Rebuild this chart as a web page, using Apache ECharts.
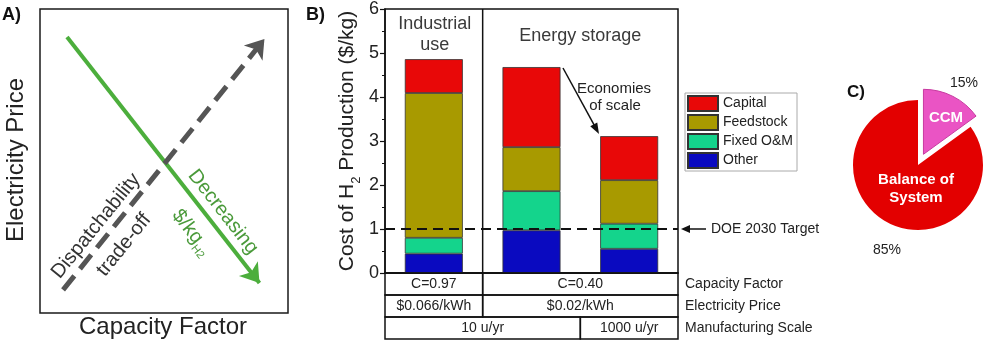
<!DOCTYPE html>
<html>
<head>
<meta charset="utf-8">
<script src="https://cdn.jsdelivr.net/npm/echarts@6/dist/echarts.min.js"></script>
<style>html,body{margin:0;padding:0;background:#fff}#c{width:985px;height:353px}</style>
</head>
<body>
<div id="c"></div>
<script>
// ---------- data ----------
const categories = ['Industrial use', 'Energy storage 10 u/yr', 'Energy storage 1000 u/yr'];
const other     = [0.44, 0.97, 0.55];
const fixedOM   = [0.36, 0.89, 0.57];
const feedstock = [3.29, 1.00, 0.99];
const capital   = [0.77, 1.82, 1.00];
const doeTarget = 1;
const yTickMax = 6;

// panel A schematic arrows (normalized 0..1 space)
const priceArrow = [[0.109, 0.908], [0.885, 0.099]];
const dispatchArrow = [[0.093, 0.076], [0.905, 0.901]];

// table below panel B: [text, startCategory, endCategory]
const tableRowLabels = ['Capacity Factor', 'Electricity Price', 'Manufacturing Scale'];
const tableCells = [
  [['C=0.97', 0, 1], ['C=0.40', 1, 3]],
  [['$0.066/kWh', 0, 1], ['$0.02/kWh', 1, 3]],
  [['10 u/yr', 0, 2], ['1000 u/yr', 2, 3]]
];

// panel C
const pieNames = ['CCM', 'Balance of System'];
const pieValues = [15, 85];

// ---------- layout ----------
const FF = '"Liberation Sans", Arial, Helvetica, sans-serif';
const gB = {left: 385, top: 9, width: 293, height: 264};
const bandW = gB.width / categories.length;
const rowH = 22;
const tableTop = gB.top + gB.height;

const col = {capital: '#e80808', feedstock: '#a89a00', fixed: '#14d48c', other: '#0a0ac0'};

function txt(x, y, text, o) {
  o = o || {};
  return {
    type: 'text', x: x, y: y, rotation: o.rot || 0, z: 50,
    style: {
      text: text, fill: o.fill || '#222', fontSize: o.size || 14, fontFamily: FF,
      fontWeight: o.weight || 'normal', align: o.align || 'center', verticalAlign: o.va || 'middle',
      rich: o.rich
    }
  };
}
function arrow(x1, y1, x2, y2, hl, hw, color, w) {
  const dx = x2 - x1, dy = y2 - y1, L = Math.sqrt(dx * dx + dy * dy);
  const ux = dx / L, uy = dy / L, px = -uy, py = ux;
  const bx = x2 - ux * hl, by = y2 - uy * hl;
  return [
    {type: 'line', z: 50, shape: {x1: x1, y1: y1, x2: bx + ux * 1, y2: by + uy * 1}, style: {stroke: color, lineWidth: w}},
    {type: 'polygon', z: 50, shape: {points: [[x2, y2], [bx + px * hw / 2, by + py * hw / 2], [bx - px * hw / 2, by - py * hw / 2]]}, style: {fill: color}}
  ];
}

const graphics = [];
// panel labels
graphics.push(txt(2, 6, 'A)', {size: 18, weight: 'bold', align: 'left', va: 'top', fill: '#111'}));
graphics.push(txt(306, 6, 'B)', {size: 18, weight: 'bold', align: 'left', va: 'top', fill: '#111'}));
graphics.push(txt(847, 84, 'C)', {size: 17, weight: 'bold', align: 'left', va: 'top', fill: '#111'}));
// panel A texts
graphics.push(txt(16, 160, 'Electricity Price', {size: 24, rot: Math.PI / 2}));
graphics.push(txt(163, 327, 'Capacity Factor', {size: 24}));
const rUp = 51 * Math.PI / 180, rDn = -52 * Math.PI / 180;
graphics.push(txt(96, 226, 'Dispatchability', {size: 20, rot: rUp, fill: '#333'}));
graphics.push(txt(124, 245, 'trade-off', {size: 20, rot: rUp, fill: '#333'}));
graphics.push(txt(223, 212, 'Decreasing', {size: 20, rot: rDn, fill: '#4a9a3a'}));
graphics.push(txt(191, 233, '{a|$/kg}{s|H2}', {size: 20, rot: rDn, fill: '#4a9a3a',
  rich: {a: {fontSize: 20, fontFamily: FF, fill: '#4a9a3a', verticalAlign: 'top', lineHeight: 22},
         s: {fontSize: 11, fontFamily: FF, fill: '#4a9a3a', verticalAlign: 'top', padding: [12, 0, 0, 0], lineHeight: 11}}}));

// panel B annotations
graphics.push(txt(gB.left + bandW * 0.5 + 1, 24, 'Industrial', {size: 18, fill: '#3a3a3a'}));
graphics.push(txt(gB.left + bandW * 0.5 + 1, 45, 'use', {size: 18, fill: '#3a3a3a'}));
graphics.push(txt(gB.left + bandW * 2, 36, 'Energy storage', {size: 18, fill: '#3a3a3a'}));
graphics.push(txt(614, 89, 'Economies', {size: 15, fill: '#222'}));
graphics.push(txt(615, 106, 'of scale', {size: 15, fill: '#222'}));
arrow(563, 68, 599, 134, 11, 8, '#111', 1.5).forEach(g => graphics.push(g));
arrow(706, 229, 681, 229, 9, 8, '#111', 1.5).forEach(g => graphics.push(g));
graphics.push(txt(711, 229, 'DOE 2030 Target', {size: 14, align: 'left', fill: '#222'}));
// divider between industrial / energy storage
graphics.push({type: 'line', z: 40, shape: {x1: gB.left + bandW, y1: gB.top, x2: gB.left + bandW, y2: tableTop}, style: {stroke: '#111', lineWidth: 1.5}});

// table
tableCells.forEach((row, i) => {
  const y0 = tableTop + i * rowH;
  row.forEach(c => {
    const xa = gB.left + c[1] * bandW, xb = gB.left + c[2] * bandW;
    graphics.push({type: 'rect', z: 40, shape: {x: xa, y: y0, width: xb - xa, height: rowH}, style: {fill: 'none', stroke: '#111', lineWidth: 1.5}});
    graphics.push(txt((xa + xb) / 2, y0 + rowH / 2, c[0], {size: 14, fill: '#222'}));
  });
  graphics.push(txt(gB.left + gB.width + 7, y0 + rowH / 2, tableRowLabels[i], {size: 14, align: 'left', fill: '#222'}));
});

// panel C labels
graphics.push(txt(946, 118, pieNames[0], {size: 15, weight: 'bold', fill: '#fff'}));
graphics.push(txt(916, 180, 'Balance of', {size: 15, weight: 'bold', fill: '#fff'}));
graphics.push(txt(916, 198, 'System', {size: 15, weight: 'bold', fill: '#fff'}));
graphics.push(txt(964, 83, pieValues[0] + '%', {size: 14, fill: '#222'}));
graphics.push(txt(887, 250, pieValues[1] + '%', {size: 14, fill: '#222'}));

const barBase = {
  type: 'bar', stack: 'cost', xAxisIndex: 1, yAxisIndex: 1, barWidth: 58,
  itemStyle: {borderColor: '#333', borderWidth: 0.8}, emphasis: {disabled: true}
};

const option = {
  animation: false,
  backgroundColor: '#fff',
  textStyle: {fontFamily: FF},
  grid: [
    {left: 40, top: 9, width: 248, height: 304, show: true, borderColor: '#1a1a1a', borderWidth: 1.5, backgroundColor: 'transparent'},
    {left: gB.left, top: gB.top, width: gB.width, height: gB.height, show: true, borderColor: '#111', borderWidth: 1.5, backgroundColor: 'transparent'}
  ],
  xAxis: [
    {gridIndex: 0, type: 'value', min: 0, max: 1, show: false},
    {gridIndex: 1, type: 'category', data: categories, axisLine: {show: true, lineStyle: {color: '#111', width: 1.5}},
     axisTick: {show: false}, axisLabel: {show: false}, splitLine: {show: false}}
  ],
  yAxis: [
    {gridIndex: 0, type: 'value', min: 0, max: 1, show: false},
    {gridIndex: 1, type: 'value', min: 0, max: yTickMax, interval: 1,
     axisLine: {show: true, lineStyle: {color: '#111', width: 1.5}},
     axisTick: {show: true, length: 5, lineStyle: {color: '#111', width: 1.2}},
     minorTick: {show: true, splitNumber: 2, length: 3, lineStyle: {color: '#111', width: 1}},
     splitLine: {show: false},
     axisLabel: {fontSize: 18, color: '#222', margin: 6, fontFamily: FF},
     name: '{a|Cost of H}{s|2}{a| Production ($/kg)}', nameLocation: 'middle', nameRotate: 90, nameGap: 26,
     nameTextStyle: {color: '#222', rich: {
       a: {fontSize: 21, fontFamily: FF, color: '#222', verticalAlign: 'top', lineHeight: 22},
       s: {fontSize: 13, fontFamily: FF, color: '#222', verticalAlign: 'top', padding: [13, 0, 0, 0], lineHeight: 13}
     }}}
  ],
  legend: {
    left: 685, top: 93, orient: 'vertical', icon: 'rect', itemWidth: 30, itemHeight: 15, itemGap: 2,
    borderColor: '#aaa', borderWidth: 1, padding: [2, 4, 2, 2], selectedMode: false,
    textStyle: {fontSize: 14, color: '#222', fontFamily: FF},
    data: ['Capital', 'Feedstock', 'Fixed O&M', 'Other']
  },
  series: [
    {type: 'lines', coordinateSystem: 'cartesian2d', xAxisIndex: 0, yAxisIndex: 0, silent: true,
     symbol: ['none', 'arrow'], symbolSize: 18,
     lineStyle: {color: '#4cae3c', width: 4, opacity: 1},
     data: [{coords: priceArrow}]},
    {type: 'lines', coordinateSystem: 'cartesian2d', xAxisIndex: 0, yAxisIndex: 0, silent: true,
     symbol: ['none', 'arrow'], symbolSize: 18,
     lineStyle: {color: '#555', width: 5, type: [18, 9], opacity: 1},
     data: [{coords: dispatchArrow}]},
    Object.assign({}, barBase, {name: 'Other', data: other, itemStyle: Object.assign({}, barBase.itemStyle, {color: col.other}),
      markLine: {silent: true, symbol: 'none', label: {show: false},
        lineStyle: {color: '#111', type: [10, 6], width: 2}, data: [{yAxis: doeTarget}]}}),
    Object.assign({}, barBase, {name: 'Fixed O&M', data: fixedOM, itemStyle: Object.assign({}, barBase.itemStyle, {color: col.fixed})}),
    Object.assign({}, barBase, {name: 'Feedstock', data: feedstock, itemStyle: Object.assign({}, barBase.itemStyle, {color: col.feedstock})}),
    Object.assign({}, barBase, {name: 'Capital', data: capital, itemStyle: Object.assign({}, barBase.itemStyle, {color: col.capital})}),
    {type: 'pie', center: [918, 165], radius: 65, startAngle: 90, clockwise: true,
     selectedMode: 'single', selectedOffset: 12, silent: true,
     label: {show: false}, labelLine: {show: false}, emphasis: {disabled: true},
     data: [
       {name: pieNames[0], value: pieValues[0], selected: true, itemStyle: {color: '#ea54c4', borderColor: '#c83aa0', borderWidth: 1}},
       {name: pieNames[1], value: pieValues[1], itemStyle: {color: '#e30000'}}
     ]}
  ],
  graphic: graphics
};

const chart = echarts.init(document.getElementById('c'), null, {renderer: 'canvas'});
chart.setOption(option);
</script>
</body>
</html>
